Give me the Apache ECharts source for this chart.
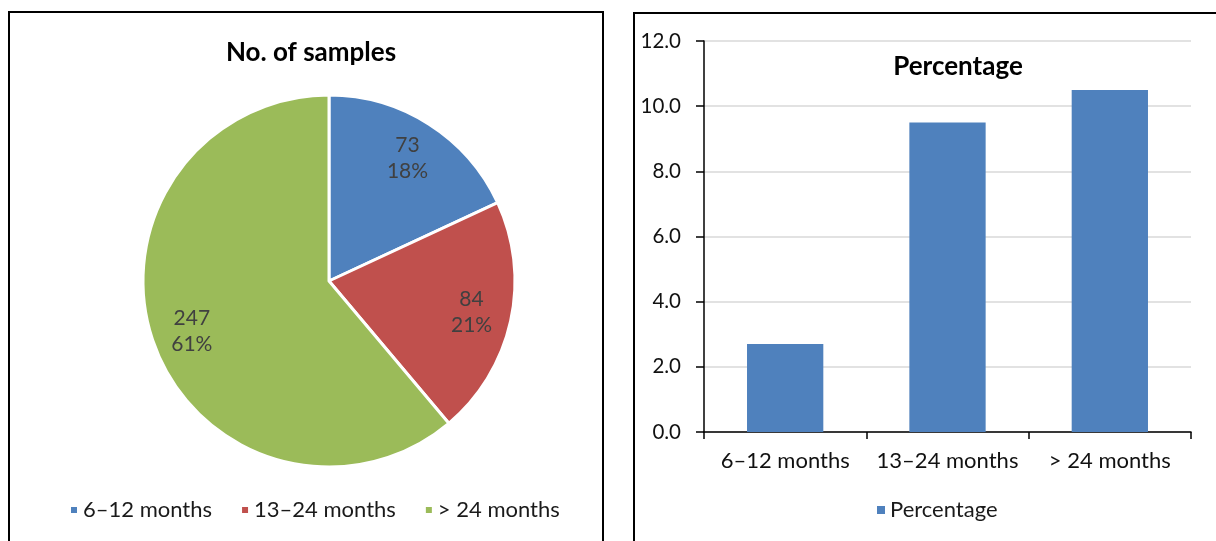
<!DOCTYPE html>
<html>
<head>
<meta charset="utf-8">
<script src="https://cdn.jsdelivr.net/npm/echarts@6/dist/echarts.min.js"></script>
<style>
html,body{margin:0;padding:0;background:#fff;}
#c{width:1216px;height:541px;}
</style>
</head>
<body>
<div id="c"></div>
<script>
var categories = ['6–12 months', '13–24 months', '> 24 months'];
var sampleCounts = [73, 84, 247];
var percentages = [2.7, 9.5, 10.5];
var pieColors = ['#4F81BD', '#C0504D', '#9BBB59'];
var pieTitle = 'No. of samples';
var barTitle = 'Percentage';
var barSeriesName = 'Percentage';

var FONT = 'Lato, "Open Sans", sans-serif';
var chart = echarts.init(document.getElementById('c'), null, {renderer: 'canvas'});

var pieData = categories.map(function (c, i) {
  return {name: c, value: sampleCounts[i], itemStyle: {color: pieColors[i]}};
});

chart.setOption({
  animation: false,
  textStyle: {fontFamily: FONT},
  title: [
    {text: pieTitle, left: 306, top: 35, textAlign: 'center',
     textStyle: {fontSize: 26, fontWeight: 'bold', color: '#000', fontFamily: FONT}},
    {text: barTitle, left: 953, top: 49, textAlign: 'center',
     textStyle: {fontSize: 26, fontWeight: 'bold', color: '#000', fontFamily: FONT}}
  ],
  legend: [
    {data: categories, top: 494, left: 64,
     itemWidth: 8, itemHeight: 8, itemGap: 28, icon: 'rect',
     textStyle: {fontSize: 22, color: '#1a1a1a', fontFamily: FONT}},
    {data: [barSeriesName], top: 494, left: 872,
     itemWidth: 8, itemHeight: 8, icon: 'rect',
     textStyle: {fontSize: 22, color: '#1a1a1a', fontFamily: FONT}}
  ],
  grid: {left: 704, right: 25, top: 41, bottom: 109},
  xAxis: {
    type: 'category', data: categories,
    axisLine: {lineStyle: {color: '#000', width: 1.5}},
    axisTick: {show: true, length: 7, lineStyle: {color: '#000', width: 1.5}},
    axisLabel: {fontSize: 22, color: '#111', margin: 18, fontFamily: FONT,
      interval: 0, hideOverlap: false}
  },
  yAxis: {
    type: 'value', min: 0, max: 12, interval: 2,
    axisLine: {show: true, lineStyle: {color: '#000', width: 1.5}},
    axisTick: {show: true, length: 8, lineStyle: {color: '#000', width: 1.5}},
    axisLabel: {fontSize: 20.5, color: '#111', margin: 23, fontFamily: FONT,
      formatter: function (v) { return v.toFixed(1); }},
    splitLine: {lineStyle: {color: '#D9D9D9', width: 1.5}}
  },
  series: [
    {
      type: 'pie', name: 'samples', center: [329, 281], radius: [0, 186],
      startAngle: 90, clockwise: true,
      data: pieData,
      itemStyle: {borderColor: '#fff', borderWidth: 3},
      label: {show: false}, labelLine: {show: false}, silent: true
    },
    {
      type: 'pie', name: 'labels', center: [329, 281], radius: [100, 186],
      startAngle: 90, clockwise: true, silent: true,
      data: categories.map(function (c, i) { return {name: c, value: sampleCounts[i]}; }),
      itemStyle: {color: 'rgba(0,0,0,0)'},
      label: {show: true, position: 'inside', fontSize: 21, color: '#404040', lineHeight: 26,
        fontFamily: FONT,
        formatter: function (p) { return p.value + '\n' + Math.round(p.percent) + '%'; }},
      labelLine: {show: false}
    },
    {
      type: 'bar', name: barSeriesName, data: percentages, barWidth: '47%',
      itemStyle: {color: '#4F81BD'}
    }
  ],
  graphic: [
    {type: 'rect', shape: {x: 9, y: 12, width: 594, height: 560}, style: {fill: 'none', stroke: '#000', lineWidth: 2}, z: 100},
    {type: 'rect', shape: {x: 634, y: 13, width: 640, height: 560}, style: {fill: 'none', stroke: '#000', lineWidth: 2}, z: 100}
  ]
});
</script>
</body>
</html>
